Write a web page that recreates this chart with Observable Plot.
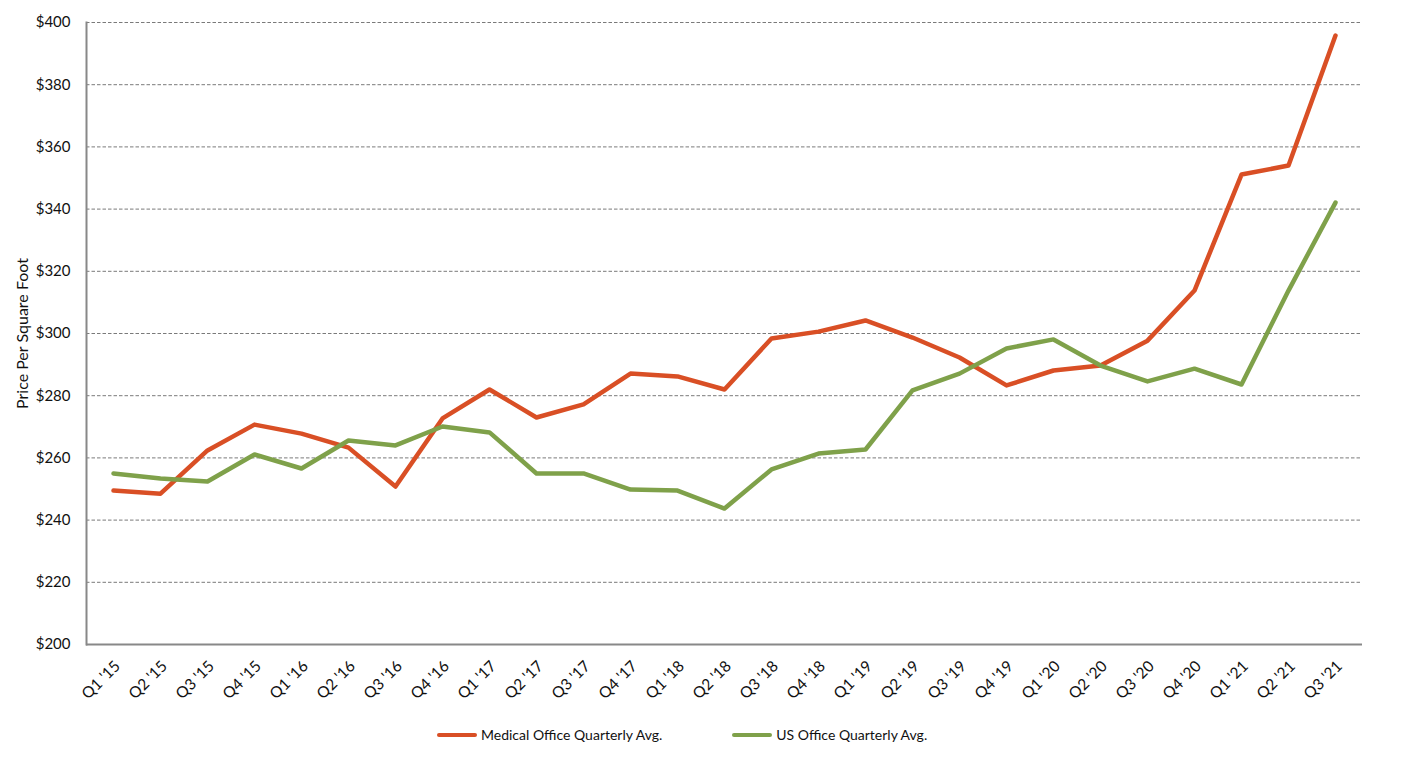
<!DOCTYPE html>
<html><head><meta charset="utf-8">
<script src="https://cdn.jsdelivr.net/npm/d3@7"></script>
<script src="https://cdn.jsdelivr.net/npm/@observablehq/plot@0.6"></script>
<style>
body{margin:0;background:#fff;font-family:Lato,sans-serif;}
#legend{display:flex;align-items:center;padding-left:437px;margin-top:14px;font-size:14px;color:#111;}
.item{display:flex;align-items:center;margin-right:70px;}
.sw{width:40px;height:4px;border-radius:2px;margin-right:4px;}
g[aria-label="y-axis label"] text{font-size:16px;}
</style>
</head><body>
<div id="chart"></div>
<div id="legend"></div>
<script>
const quarters = ["Q1 '15","Q2 '15","Q3 '15","Q4 '15","Q1 '16","Q2 '16","Q3 '16","Q4 '16","Q1 '17","Q2 '17","Q3 '17","Q4 '17","Q1 '18","Q2 '18","Q3 '18","Q4 '18","Q1 '19","Q2 '19","Q3 '19","Q4 '19","Q1 '20","Q2 '20","Q3 '20","Q4 '20","Q1 '21","Q2 '21","Q3 '21"];
const medical = [249.5,248.5,262.4,270.7,267.8,263.3,250.8,272.7,282,273,277.2,287.1,286.2,282,298.4,300.6,304.2,298.7,292.3,283.3,288.1,289.7,297.7,313.8,351.1,354,395.8];
const usOffice = [255,253.4,252.4,261.1,256.6,265.6,264,270.1,268.2,255,255,249.8,249.5,243.7,256.3,261.4,262.7,281.7,287.1,295.2,298.1,289.7,284.6,288.7,283.6,313.8,342.1];
const seriesNames = ["Medical Office Quarterly Avg.","US Office Quarterly Avg."];
const seriesColors = ["#d94f25","#7fa14a"];
const yTicks = [200,220,240,260,280,300,320,340,360,380,400];

const data = quarters.flatMap((q,i)=>[
  {q, v: medical[i], s: seriesNames[0]},
  {q, v: usOffice[i], s: seriesNames[1]}
]);

const chart = Plot.plot({
  width: 1402, height: 712,
  marginLeft: 86, marginRight: 40, marginTop: 22, marginBottom: 68,
  style: {fontFamily: 'Lato, sans-serif', fontSize: "15px", color: "#111"},
  x: {type: "point", domain: quarters, padding: 0.5},
  y: {domain: [200,400]},
  color: {domain: seriesNames, range: seriesColors},
  marks: [
    Plot.gridY(yTicks.filter(d=>d>200), {stroke: "#7a7a7a", strokeOpacity: 1, strokeDasharray: "3.5,2", strokeWidth: 1}),
    Plot.ruleY([200], {stroke: "#888", strokeWidth: 2}),
    Plot.frame({anchor: "left", stroke: "#888", strokeWidth: 2}),
    Plot.axisY({ticks: yTicks, tickFormat: d => "$" + d, tickSize: 0, tickPadding: 16, fontSize: 15,
      label: "Price Per Square Foot", labelAnchor: "center", labelArrow: "none", labelOffset: 70}),
    Plot.axisX({tickRotate: -45, tickSize: 0, tickPadding: 19, dx: 4, fontSize: 15.5, label: null}),
    Plot.line(data, {x: "q", y: "v", stroke: "s", z: "s", strokeWidth: 4.5, strokeLinejoin: "round", strokeLinecap: "round"})
  ]
});
document.getElementById("chart").appendChild(chart);

const lg = document.getElementById("legend");
seriesNames.forEach((n,i)=>{
  const it = document.createElement("div"); it.className="item";
  const sw = document.createElement("div"); sw.className="sw"; sw.style.background = seriesColors[i];
  const t = document.createElement("span"); t.textContent = n;
  it.appendChild(sw); it.appendChild(t); lg.appendChild(it);
});
</script>
</body></html>
